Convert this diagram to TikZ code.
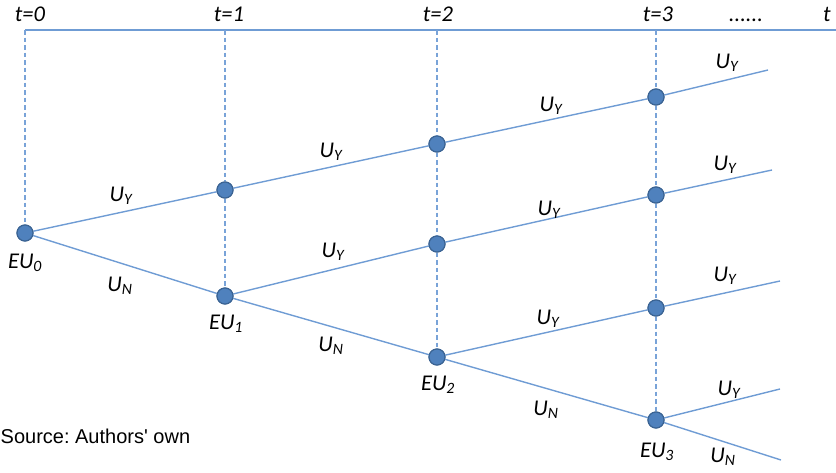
\documentclass[tikz,border=0pt]{standalone}
\usepackage{fontspec}
\setmainfont{Carlito}
\newfontfamily\srcfont{Liberation Sans}
\frenchspacing
\begin{document}
\begin{tikzpicture}[x=1pt,y=-1pt,
  tl/.style={draw=lineblue,line width=1.4pt},
  br/.style={draw=lineblue,line width=1.4pt},
  guide/.style={draw=guideblue,line width=1.3pt,dash pattern=on 4.5pt off 3pt},
  dot/.style={circle,fill=nodeblue,draw=nodeborder,line width=1.1pt,minimum size=16pt,inner sep=0pt},
  lab/.style={font=\fontsize{22.5}{26}\selectfont\itshape,inner sep=0pt},
  tlab/.style={font=\fontsize{22.5}{26}\selectfont\itshape,inner sep=0pt,anchor=base},
  src/.style={font=\srcfont\fontsize{20}{22}\selectfont,inner sep=0pt,anchor=west}]
\definecolor{lineblue}{HTML}{6F9CD4}
\definecolor{guideblue}{HTML}{79A3D8}
\definecolor{nodeblue}{HTML}{4F81BD}
\definecolor{nodeborder}{HTML}{3A6393}
\useasboundingbox (0,0) rectangle (836,472);
% timeline
\coordinate (tl0) at (25,30);
\coordinate (tl1) at (225,30);
\coordinate (tl2) at (437,30);
\coordinate (tl3) at (656,30);
\coordinate (tlend) at (840,30);
\draw[tl] (tl0) -- (tlend);
\node[tlab] (t0) at (30,21) {t=0};
\node[tlab] (t1) at (229,21) {t=1};
\node[tlab] (t2) at (438,21) {t=2};
\node[tlab] (t3) at (658,21) {t=3};
\node[tlab] (tdots) at (746,21) {......};
\node[tlab,anchor=base west] (tt) at (823,21) {t};
% nodes
\node[dot] (n0) at (25,233) {};
\node[dot] (n1u) at (225,190) {};
\node[dot] (n1d) at (225,296) {};
\node[dot] (n2a) at (437,144) {};
\node[dot] (n2b) at (437,244) {};
\node[dot] (n2c) at (437,357) {};
\node[dot] (n3a) at (656,97) {};
\node[dot] (n3b) at (656,195) {};
\node[dot] (n3c) at (656,308) {};
\node[dot] (n3d) at (656,420) {};
% ends
\coordinate (e1) at (768,70);
\coordinate (e2) at (772,170);
\coordinate (e3) at (780,281);
\coordinate (e4) at (780,389);
\coordinate (e5) at (781,460);
% guides
\draw[guide] (tl0) -- (n0);
\draw[guide] (tl1) -- (n1u);
\draw[guide] (n1u) -- (n1d);
\draw[guide] (tl2) -- (n2a);
\draw[guide] (n2a) -- (n2b);
\draw[guide] (n2b) -- (n2c);
\draw[guide] (tl3) -- (n3a);
\draw[guide] (n3a) -- (n3b);
\draw[guide] (n3b) -- (n3c);
\draw[guide] (n3c) -- (n3d);
% branches
\draw[br] (n0) -- (n1u);
\draw[br] (n0) -- (n1d);
\draw[br] (n1u) -- (n2a);
\draw[br] (n1d) -- (n2b);
\draw[br] (n1d) -- (n2c);
\draw[br] (n2a) -- (n3a);
\draw[br] (n2b) -- (n3b);
\draw[br] (n2c) -- (n3c);
\draw[br] (n2c) -- (n3d);
\draw[br] (n3a) -- (e1);
\draw[br] (n3b) -- (e2);
\draw[br] (n3c) -- (e3);
\draw[br] (n3d) -- (e4);
\draw[br] (n3d) -- (e5);
% redraw dots on top
\foreach \n in {n0,n1u,n1d,n2a,n2b,n2c,n3a,n3b,n3c,n3d}
  \node[dot] at (\n) {};
% labels
\node[lab] (l0) at (25,263) {EU$_{\mathit{0}}$};
\node[lab] (l1) at (226,324) {EU$_{\mathit{1}}$};
\node[lab] (l2) at (438,385) {EU$_{\mathit{2}}$};
\node[lab] (l3) at (657,452) {EU$_{\mathit{3}}$};
\node[lab] (a1) at (121,196) {U$_{\mathit{Y}}$};
\node[lab] (a2) at (120,286) {U$_{\mathit{N}}$};
\node[lab] (a3) at (331,152) {U$_{\mathit{Y}}$};
\node[lab] (a4) at (333,252) {U$_{\mathit{Y}}$};
\node[lab] (a5) at (331,346) {U$_{\mathit{N}}$};
\node[lab] (a6) at (551,106) {U$_{\mathit{Y}}$};
\node[lab] (a7) at (549,210) {U$_{\mathit{Y}}$};
\node[lab] (a8) at (548,319) {U$_{\mathit{Y}}$};
\node[lab] (a9) at (546,410) {U$_{\mathit{N}}$};
\node[lab] (b1) at (727,63) {U$_{\mathit{Y}}$};
\node[lab] (b2) at (725,165) {U$_{\mathit{Y}}$};
\node[lab] (b3) at (725,276) {U$_{\mathit{Y}}$};
\node[lab] (b4) at (729,390) {U$_{\mathit{Y}}$};
\node[lab] (b5) at (723,457) {U$_{\mathit{N}}$};
\node[src] (source) at (0.5,436) {Source: Authors' own};
\end{tikzpicture}
\end{document}
